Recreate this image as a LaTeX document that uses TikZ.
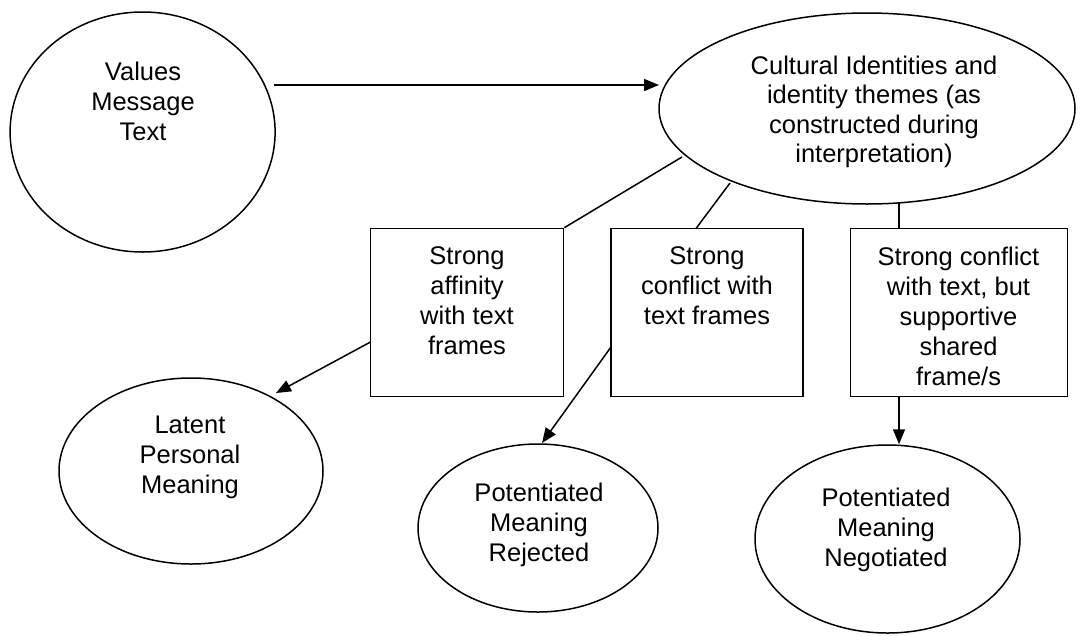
\documentclass[tikz,border=0pt]{standalone}
\usepackage{fontspec}
\setmainfont{Liberation Sans}
\usetikzlibrary{shapes.geometric,arrows.meta}
\begin{document}
\begin{tikzpicture}[x=1pt,y=-1pt,
  ell/.style={draw,ellipse,line width=1.5pt,inner sep=0pt},
  boxnode/.style={draw,rectangle,line width=1.6pt,inner sep=0pt},
  lbl/.style={align=center,anchor=north,inner sep=0pt,font=\fontsize{25.5}{30}\selectfont},
  conn/.style={line width=1.5pt},
  arr/.style={conn,-{Triangle[length=15pt,width=12pt]}}]
\useasboundingbox (0,0) rectangle (1083,635);

% top ellipses
\node[ell,minimum width=265pt,minimum height=240pt] (vals) at (142.6,132) {};
\node[lbl] (valsT) at (143,62) {Values\\Message\\Text};
\node[ell,minimum width=416pt,minimum height=191pt] (cult) at (867,108.5) {};
\node[lbl,font=\fontsize{25.5}{29.5}\selectfont] (cultT) at (874,55.5) {Cultural Identities and\\identity themes (as\\constructed during\\interpretation)};

% boxes
\node[boxnode,minimum width=193pt,minimum height=168pt] (b1) at (467,312.5) {};
\node[lbl] (b1T) at (467,246.5) {Strong\\affinity\\with text\\frames};
\node[boxnode,minimum width=192pt,minimum height=168pt] (b2) at (707,312.5) {};
\node[lbl] (b2T) at (707,246.5) {Strong\\conflict with\\text frames};
\node[boxnode,minimum width=217pt,minimum height=168pt] (b3) at (959,312.5) {};
\node[lbl] (b3T) at (958.5,246.5) {Strong conflict\\with text, but\\supportive\\shared\\frame/s};

% bottom ellipses
\node[ell,minimum width=264pt,minimum height=186pt] (lat) at (191,471) {};
\node[lbl] (latT) at (190,416) {Latent\\Personal\\Meaning};
\node[ell,minimum width=240pt,minimum height=168pt] (rej) at (538,528) {};
\node[lbl] (rejT) at (539,483) {Potentiated\\Meaning\\Rejected};
\node[ell,minimum width=265pt,minimum height=188pt] (neg) at (887.5,539) {};
\node[lbl] (negT) at (886,487.5) {Potentiated\\Meaning\\Negotiated};

% connectors
\coordinate (aS) at (274,85);
\coordinate (aE) at (659,85);
\draw[arr] (aS) -- (aE);

\coordinate (c1) at (682,157);
\draw[conn] (c1) -- (b1.north east);
\coordinate (c2) at (730,183);
\coordinate (c2b) at (696,228.5);
\draw[conn] (c2) -- (c2b);
\coordinate (c3) at (899,203);
\draw[conn] (c3) -- (b3.north -| c3);

\coordinate (s1) at (370.5,342);
\coordinate (t1) at (276,393);
\draw[arr] (s1) -- (t1);
\coordinate (s2) at (611,347);
\coordinate (t2) at (542,443);
\draw[arr] (s2) -- (t2);
\draw[arr] (b3.south -| c3) -- (neg.north -| c3);
\end{tikzpicture}
\end{document}
